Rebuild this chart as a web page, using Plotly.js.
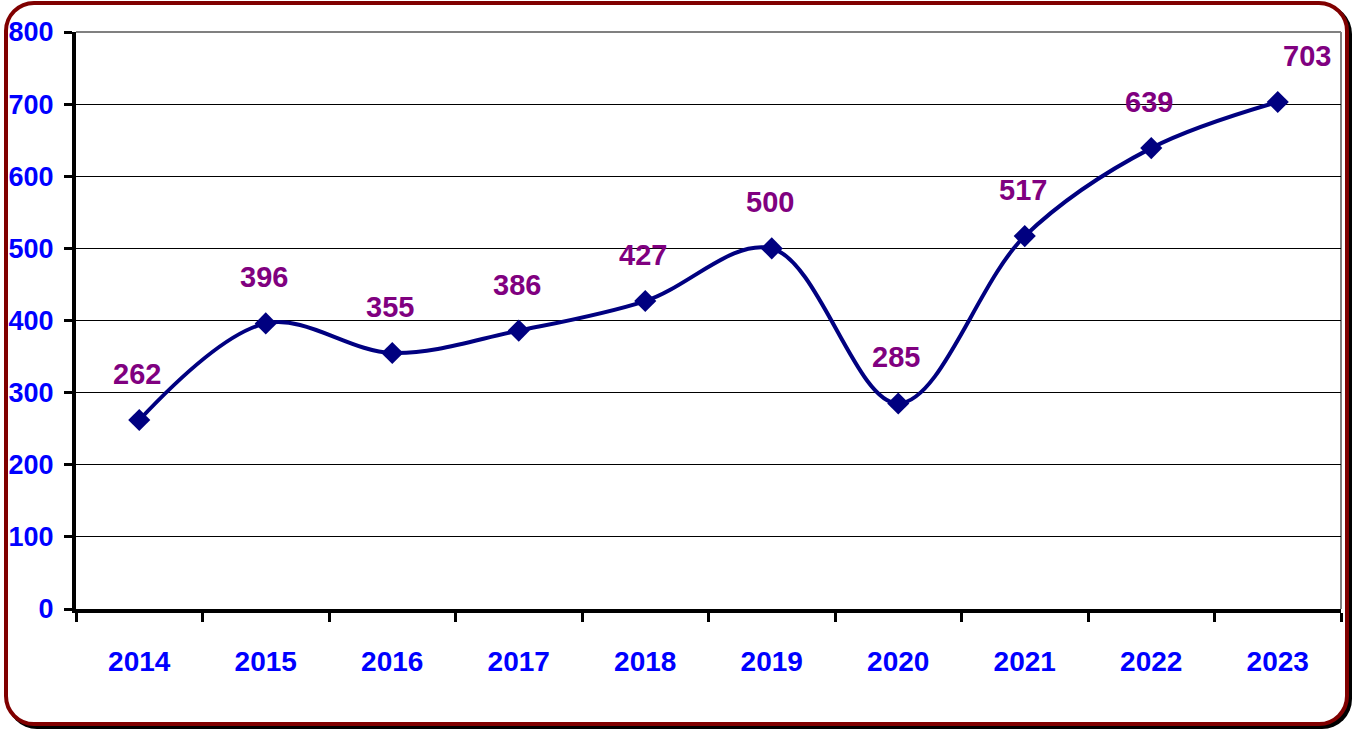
<!DOCTYPE html>
<html>
<head>
<meta charset="utf-8">
<script src="https://cdn.plot.ly/plotly-3.0.1.min.js"></script>
<style>
  html, body { margin: 0; padding: 0; background: #ffffff; }
  #frame {
    position: absolute; left: 4px; top: 1px; width: 1345px; height: 725px;
    box-sizing: border-box; border: 4px solid #800000; border-radius: 30px;
    box-shadow: 3px 3px 0 #000000; background: #ffffff;
  }
  #chart { position: absolute; left: 0; top: 0; width: 1356px; height: 729px; }
</style>
</head>
<body>
<div id="frame"></div>
<div id="chart"></div>
<script>
const years = ['2014','2015','2016','2017','2018','2019','2020','2021','2022','2023'];
const values = [262, 396, 355, 386, 427, 500, 285, 517, 639, 703];
const yTicks = [0, 100, 200, 300, 400, 500, 600, 700, 800];

const FONT = '"Liberation Sans", Arial, sans-serif';

const trace = {
  x: years,
  y: values,
  type: 'scatter',
  mode: 'lines+markers',
  line: { color: '#000080', width: 4, shape: 'spline', smoothing: 1 },
  marker: { symbol: 'diamond', size: 17, color: '#000080' },
  hoverinfo: 'skip'
};

const annotations = years.map((yr, i) => ({
  x: i, y: values[i], xref: 'x', yref: 'y',
  text: String(values[i]), showarrow: false,
  yshift: 46, xshift: (i === years.length - 1) ? 29 : -2,
  font: { family: FONT, size: 29, color: '#800080', weight: 'bold' }
}));

const layout = {
  width: 1356, height: 729,
  margin: { l: 76, r: 15, t: 32, b: 120 },
  paper_bgcolor: 'rgba(0,0,0,0)',
  plot_bgcolor: 'rgba(0,0,0,0)',
  showlegend: false,
  xaxis: {
    type: 'category',
    categoryarray: years, categoryorder: 'array',
    range: [-0.5, years.length - 0.5],
    autorange: false,
    tickson: 'boundaries',
    ticks: 'outside', ticklen: 9, tickwidth: 3, tickcolor: '#000000',
    showline: true, linecolor: '#000000', linewidth: 4,
    showgrid: false, zeroline: false,
    tickangle: 0,
    ticklabelstandoff: 24,
    tickfont: { family: FONT, size: 28, color: '#0000ff', weight: 'bold' },
    fixedrange: true
  },
  yaxis: {
    range: [0, 800],
    autorange: false,
    tickvals: yTicks, ticktext: yTicks.map(String),
    ticks: 'outside', ticklen: 8, tickwidth: 3, tickcolor: '#000000',
    showline: true, linecolor: '#000000', linewidth: 4,
    showgrid: true, gridcolor: '#000000', gridwidth: 1,
    zeroline: false,
    ticklabelstandoff: 5,
    tickfont: { family: FONT, size: 27, color: '#0000ff', weight: 'bold' },
    fixedrange: true
  },
  shapes: [
    { type: 'line', xref: 'paper', yref: 'paper', x0: 0, x1: 1, y0: 1, y1: 1,
      line: { color: '#808080', width: 2 }, layer: 'above' },
    { type: 'line', xref: 'paper', yref: 'paper', x0: 1, x1: 1, y0: 0, y1: 1,
      line: { color: '#808080', width: 2 }, layer: 'below' }
  ],
  annotations: annotations
};

Plotly.newPlot('chart', [trace], layout, { displayModeBar: false, staticPlot: true });
</script>
</body>
</html>
